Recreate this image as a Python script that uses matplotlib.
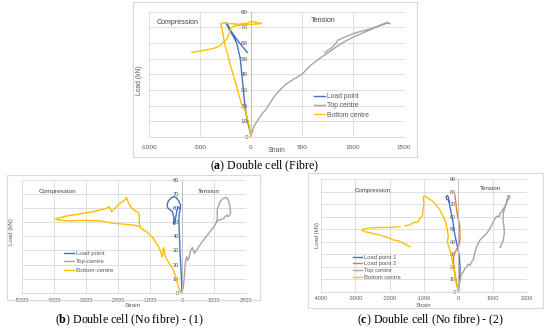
import numpy as np
import matplotlib.pyplot as plt
from matplotlib.patches import Rectangle

plt.rcParams['font.family'] = ['Liberation Sans', 'DejaVu Sans']
plt.rcParams['axes.unicode_minus'] = False
plt.rcParams['mathtext.fontset'] = 'custom'
plt.rcParams['mathtext.rm'] = 'Liberation Serif'
plt.rcParams['mathtext.bf'] = 'Liberation Serif:bold'

# ---- (a) Double cell (Fibre) ----
a_load_x = [0, -15, -35, -60, -75, -90, -105, -140, -180, -210, -245, -235, -190, -130, -75, -36]
a_load_y = [0, 5, 10, 20, 30, 40, 50, 60, 65, 68, 73, 72.5, 67, 61.5, 57, 54]
a_top_x = [0, 15, 30, 60, 100, 150, 190, 230, 290, 350, 420, 500, 580, 680, 760, 840, 920, 1003,
           1090, 1167, 1240, 1300, 1335, 1363, 1340, 1300, 1230, 1167, 1080, 1003, 920, 850, 835,
           790, 725]
a_top_y = [0, 4, 7, 10, 14, 18, 22, 26, 30.5, 34, 37, 40, 45.5, 50.5, 54, 57.8, 61, 63.8,
           66.3, 68.4, 70.5, 72.3, 73.2, 72.3, 73, 71.8, 70.5, 69, 67.5, 66, 63.8, 61.8, 60,
           57, 54]
a_bot_x = [0, -5, -15, -26, -45, -59, -92, -124, -157, -185, -206, -225, -245, -260, -271, -288,
           -298, -290, -270, -230, -180, -120, -60, -20, 10, 40, 70, 105, 60, 0, -80, -160,
           -200, -206, -225, -255, -300, -353, -450, -580]
a_bot_y = [0, 2, 6, 10, 14, 17, 21, 28, 36, 42, 47, 52, 56, 60, 64, 70.5,
           72, 72.5, 73, 72.5, 72.3, 72, 72.5, 73, 74, 73.3, 72.8, 72.5, 72.2, 72, 71.5, 71,
           69.5, 67.4, 64, 61, 58.5, 56.8, 55.5, 54]

# ---- (b) Double cell (No fibre) - (1) ----
b_load_x = [0, -15, -35, -60, -75, -90, -100, -85, -50, -45, -100, -180, -271, -350, -430, -465,
            -440, -380, -300, -250, -270, -230, -200, -160, -120, -90]
b_load_y = [0, 8, 18, 28, 38, 46, 52, 56, 60, 62, 65, 67.5, 68.2, 67, 65, 62.5,
            60, 59, 57.5, 53, 49, 48.5, 53, 58, 61, 60]
b_top_x = [0, 20, 42, 73, 94, 115, 146, 177, 219, 271, 323, 385, 458, 562, 719, 875, 1031, 1083,
           1104, 1100, 1135, 1187, 1292, 1375, 1448, 1500, 1521, 1448, 1396, 1292, 1104]
b_top_y = [0, 2, 4.3, 11.4, 18.5, 23.2, 25.6, 22.7, 25, 30.3, 32, 28, 30.3, 33.9, 38.6, 43.3, 48, 50.4,
           53, 58.7, 61, 64.6, 67, 67.7, 65.8, 61, 56.3, 54, 55, 52.5, 51]
b_bot_x = [0, -62, -120, -167, -220, -271, -350, -430, -480, -531, -560, -583, -600, -625, -660,
           -700, -740, -820, -896, -1000, -1104, -1200, -1312, -1334, -1340, -1416, -1572, -1677,
           -1729, -1800, -1938, -2094, -2197, -2272, -2400, -2562, -2800, -3084, -3300, -3604,
           -3969, -3800, -3500, -3200, -2900, -2562, -2400, -2146, -1800, -1521, -1312]
b_bot_y = [0, 0.7, 5, 9, 13, 16, 19, 22, 24, 26, 31, 32, 27, 25.5, 29,
           31, 33, 35.5, 38.6, 41, 43.3, 44.5, 46.5, 49.3, 56, 57.5, 60, 63.9,
           67.7, 65.5, 63.5, 60, 57.5, 61, 59.5, 58.7, 57.5, 56.4, 55.5, 54.5,
           52.1, 51.5, 51, 51.3, 51.2, 51.1, 50.3, 49.3, 48.6, 48, 47]

# ---- (c) Double cell (No fibre) - (2) ----
c_load1_x = [0, 20, 40, 49, 45, 29, 0, -49, -90, -126, -165, -223, -262, -291, -330, -359, -340,
             -291, -270]
c_load1_y = [0, 5, 10, 17.3, 22, 28, 33, 38.7, 44, 49.4, 57.4, 65.4, 70.7, 76, 77, 76, 74,
             73.4, 72]
c_load2_x = [0, -40, -80, -120, -146, -120, -60, 0, 40, 49, 40, 10, -20, -49, -70, -87, -97]
c_load2_y = [0, 6, 12, 18, 25.4, 30, 33.4, 36, 40, 48, 52, 57.4, 60, 65.4, 70.7, 74, 77.4]
c_top_x = [0, 20, 49, 97, 140, 194, 243, 291, 340, 388, 437, 485, 534, 583, 631, 728, 825, 922,
           1019, 1068, 1136, 1194, 1214, 1262, 1311, 1360, 1408, 1437, 1485, 1505, 1466, 1420,
           1360, 1311, 1300, 1330, 1340, 1311, 1260, 1214]
c_top_y = [0, 5, 9.3, 14.7, 15.5, 18.7, 20, 22, 21, 24, 25.4, 32, 36, 38.7, 41.4, 44, 46.7, 50.7,
           56, 58.7, 60.6, 60, 62.8, 64, 66.7, 68, 71, 76.6, 77, 76, 74, 73,
           68, 63, 57.4, 52, 46.7, 41.4, 38, 35.5]
c_bot_x = [0, -49, -78, -110, -146, -194, -243, -272, -300, -320, -291, -320, -359, -437, -534,
           -680, -825, -900, -971, -1019, -1019, -1000, -1019, -1039, -1116, -1165, -1311, -1408,
           -1550, np.nan, -1700, -1894, -2282, -2600, -2767, -2815, -2718, -2670, -2282, -1990,
           -1894, -1748, -1505, -1408]
c_bot_y = [0, 5, 9.3, 15, 20, 28, 33, 36, 38, 40, 44, 49.4, 54.7, 60, 65.4,
           70.7, 74, 75, 76.5, 76, 73.4, 70.8, 68, 61.4, 58.8, 56, 55.3, 53.5,
           52.8, np.nan, 52.2, 51.5, 51.5, 51, 50, 49.4, 48, 47.8, 45.4, 42.7,
           41.4, 40.8, 37.4, 36]

W, H = 550, 334
BLUE, GREY, YELLOW, ORANGE = '#4472C4', '#A5A5A5', '#FFC000', '#ED7D31'
TXT = '#595959'


def fx(x):
    return x / W


def fy(y):
    return 1 - y / H


def panel(fig, plot_px, frame_px, xlim, xstep, ylim, series, fs, xpad,
          legend_px, lspace, strain_px, load_px, comp_px, tens_px, caption, cap_px):
    x0, y0, x1, y1 = frame_px
    fig.patches.append(Rectangle((fx(x0), fy(y1)), fx(x1 - x0), (y1 - y0) / H,
                                 transform=fig.transFigure, fill=False,
                                 ec='#d9d9d9', lw=0.8))
    l, t, r, b = plot_px
    ax = fig.add_axes([fx(l), fy(b), fx(r - l), (b - t) / H])
    for xs, ys, c, lab in series:
        ax.plot(xs, ys, color=c, lw=1.0, label=lab)
    ax.set_xlim(*xlim)
    ax.set_ylim(*ylim)
    ax.set_xticks(np.arange(xlim[0], xlim[1] + 1, xstep))
    ax.set_yticks(np.arange(ylim[0], ylim[1] + 1, 10))
    ax.grid(True, color='#d9d9d9', lw=0.6)
    ax.set_axisbelow(True)
    for s in ['top', 'right']:
        ax.spines[s].set_visible(False)
    ax.spines['left'].set_position(('data', 0))
    ax.spines['left'].set_color('#bfbfbf')
    ax.spines['bottom'].set_color('#d9d9d9')
    ax.spines['left'].set_linewidth(0.7)
    ax.spines['bottom'].set_linewidth(0.7)
    ax.tick_params(axis='both', length=0, labelsize=fs, labelcolor=TXT)
    ax.tick_params(axis='x', pad=xpad)
    ax.tick_params(axis='y', pad=2)
    ax.set_facecolor('none')

    ax.legend(loc='upper left', bbox_to_anchor=(fx(legend_px[0]), fy(legend_px[1])),
              bbox_transform=fig.transFigure, frameon=False, fontsize=fs + 0.3,
              handlelength=1.6, handletextpad=0.3, labelspacing=lspace,
              borderpad=0, borderaxespad=0, labelcolor=TXT)

    fig.text(fx(strain_px[0]), fy(strain_px[1]), 'Strain', fontsize=fs + 0.3, color=TXT,
             ha='center', va='center')
    fig.text(fx(load_px[0]), fy(load_px[1]), 'Load (kN)', fontsize=fs + 0.3, color=TXT,
             ha='center', va='center', rotation=90)
    fig.text(fx(comp_px[0]), fy(comp_px[1]), 'Compression', fontsize=fs + 0.5, color='#404040',
             ha='center', va='center')
    fig.text(fx(tens_px[0]), fy(tens_px[1]), 'Tension', fontsize=fs + 0.5, color='#404040',
             ha='center', va='center')
    fig.text(fx(cap_px[0]), fy(cap_px[1]), caption, fontsize=8.6, color='black',
             family='Liberation Serif', ha='center', va='center')
    return ax


fig = plt.figure(figsize=(5.5, 3.34), dpi=100)

panel(fig, (149, 11.7, 404, 137), (133, 2, 417, 157), (-1000, 1500), 500, (0, 80),
      [(a_load_x, a_load_y, BLUE, 'Load point'),
       (a_top_x, a_top_y, GREY, 'Top centre'),
       (a_bot_x, a_bot_y, YELLOW, 'Bottom centre')],
      4.6, 5.5, (314, 93), 0.35, (277, 150), (140, 80), (178, 22.7), (323, 21),
      r'($\mathbf{a}$) Double cell (Fibre)', (265, 166))

panel(fig, (22, 180, 246, 292.7), (7, 175, 260, 300), (-5000, 2000), 1000, (0, 80),
      [(b_load_x, b_load_y, BLUE, 'Load point'),
       (b_top_x, b_top_y, GREY, 'Top-centre'),
       (b_bot_x, b_bot_y, YELLOW, 'Bottom-centre')],
      4.1, 3.5, (64, 250.5), 0.55, (133, 305.5), (12, 232), (57, 191), (209, 191.5),
      r'($\mathbf{b}$) Double cell (No fibre) - (1)', (129, 320))

panel(fig, (321, 179.3, 527, 291.7), (308, 173, 543, 308), (-4000, 2000), 1000, (0, 90),
      [(c_load1_x, c_load1_y, BLUE, 'Load point 1'),
       (c_load2_x, c_load2_y, ORANGE, 'Load point 2'),
       (c_top_x, c_top_y, GREY, 'Top centre'),
       (c_bot_x, c_bot_y, YELLOW, 'Bottom centre')],
      3.9, 3.0, (353, 254.5), 0.3, (424, 305.5), (317, 235), (373, 190), (490, 189),
      r'($\mathbf{c}$) Double cell (No fibre) - (2)', (431, 320))

fig.savefig('out.png', dpi=100)
